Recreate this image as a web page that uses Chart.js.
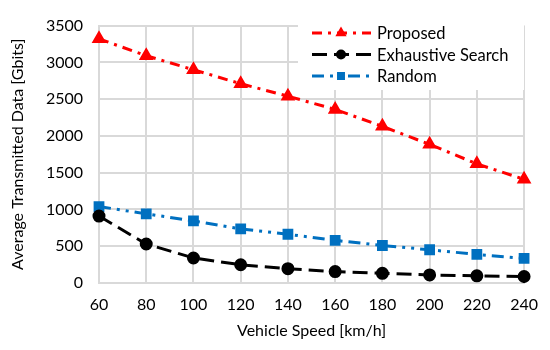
<!DOCTYPE html>
<html><head><meta charset="utf-8">
<script src="https://cdn.jsdelivr.net/npm/chart.js@4/dist/chart.umd.min.js"></script>
<style>html,body{margin:0;padding:0;background:#fff}#wrap{width:550px;height:350px}</style>
</head><body><div id="wrap"><canvas id="c" width="550" height="350"></canvas></div>
<script>
const speeds = ['60','80','100','120','140','160','180','200','220','240'];
const proposed = [3320, 3090, 2900, 2710, 2540, 2360, 2130, 1885, 1620, 1410];
const exhaustive = [910, 530, 340, 248, 195, 155, 132, 110, 97, 88];
const randomSel = [1040, 940, 845, 735, 663, 580, 510, 452, 388, 335];
const yTicks = [0, 500, 1000, 1500, 2000, 2500, 3000, 3500];
const FONT = 'Lato, "Open Sans", sans-serif';
const GRID = '#d9d9d9';

const legendPlugin = {
  id: 'excelLegend',
  beforeDatasetsDraw(chart) {
    const ctx = chart.ctx;
    const x0 = 298, y0 = 20, w = 226, h = 70;
    ctx.save();
    ctx.fillStyle = '#fff';
    ctx.fillRect(x0, y0, w, h);
    chart.data.datasets.forEach((ds, i) => {
      const y = 33 + i * 21.5;
      ctx.strokeStyle = ds.borderColor;
      ctx.lineWidth = ds.borderWidth;
      ctx.setLineDash(ds.borderDash);
      ctx.beginPath(); ctx.moveTo(312, y); ctx.lineTo(371, y); ctx.stroke();
      ctx.setLineDash([]);
      ctx.fillStyle = ds.pointBackgroundColor;
      ctx.strokeStyle = ds.pointBorderColor;
      Chart.helpers.drawPoint(ctx, {pointStyle: ds.pointStyle, radius: 3.5, borderWidth: 1}, 341, y);
      ctx.fillStyle = '#000';
      ctx.font = '16.5px ' + FONT;
      ctx.textBaseline = 'middle';
      ctx.fillText(ds.label, 377, y + 1);
    });
    ctx.restore();
  }
};

new Chart(document.getElementById('c'), {
  type: 'line',
  data: {
    labels: speeds,
    datasets: [
      {label: 'Proposed', data: proposed, borderColor: '#ff0000', backgroundColor: '#ff0000',
       pointBackgroundColor: '#ff0000', pointBorderColor: '#ff0000', borderWidth: 3,
       borderDash: [10, 6, 3, 6], pointStyle: 'triangle', pointRadius: 5.5},
      {label: 'Exhaustive Search', data: exhaustive, borderColor: '#000000', backgroundColor: '#000000',
       pointBackgroundColor: '#000000', pointBorderColor: '#000000', borderWidth: 3,
       borderDash: [15, 7], pointStyle: 'circle', pointRadius: 5},
      {label: 'Random', data: randomSel, borderColor: '#0070c0', backgroundColor: '#0070c0',
       pointBackgroundColor: '#0070c0', pointBorderColor: '#0070c0', borderWidth: 3,
       borderDash: [12, 6, 3, 6, 3, 6], pointStyle: 'rect', pointRadius: 5.5}
    ]
  },
  options: {
    responsive: false, animation: false, devicePixelRatio: 1,
    layout: {padding: {left: 4, right: 20, top: 17, bottom: 6}},
    plugins: {legend: {display: false}, tooltip: {enabled: false}},
    elements: {line: {tension: 0}},
    scales: {
      x: {
        offset: false,
        grid: {color: GRID, lineWidth: 2, drawTicks: false},
        border: {color: GRID, width: 2},
        ticks: {color: '#000', font: {family: FONT, size: 16}, padding: 12, maxRotation: 0},
        title: {display: true, text: 'Vehicle Speed [km/h]', color: '#000', font: {family: FONT, size: 16}, padding: {top: 6}},
        afterFit(s) { s.height = 61; }
      },
      y: {
        min: 0, max: 3500,
        afterBuildTicks(s) { s.ticks = yTicks.map(v => ({value: v})); },
        grid: {color: GRID, lineWidth: 2, drawTicks: false},
        border: {color: GRID, width: 2},
        ticks: {color: '#000', font: {family: FONT, size: 16}, padding: 16, callback: v => String(v)},
        title: {display: true, text: 'Average Transmitted Data [Gbits]', color: '#000', font: {family: FONT, size: 16}},
        afterFit(s) { s.width = 95; }
      }
    }
  },
  plugins: [legendPlugin]
});
</script></body></html>
